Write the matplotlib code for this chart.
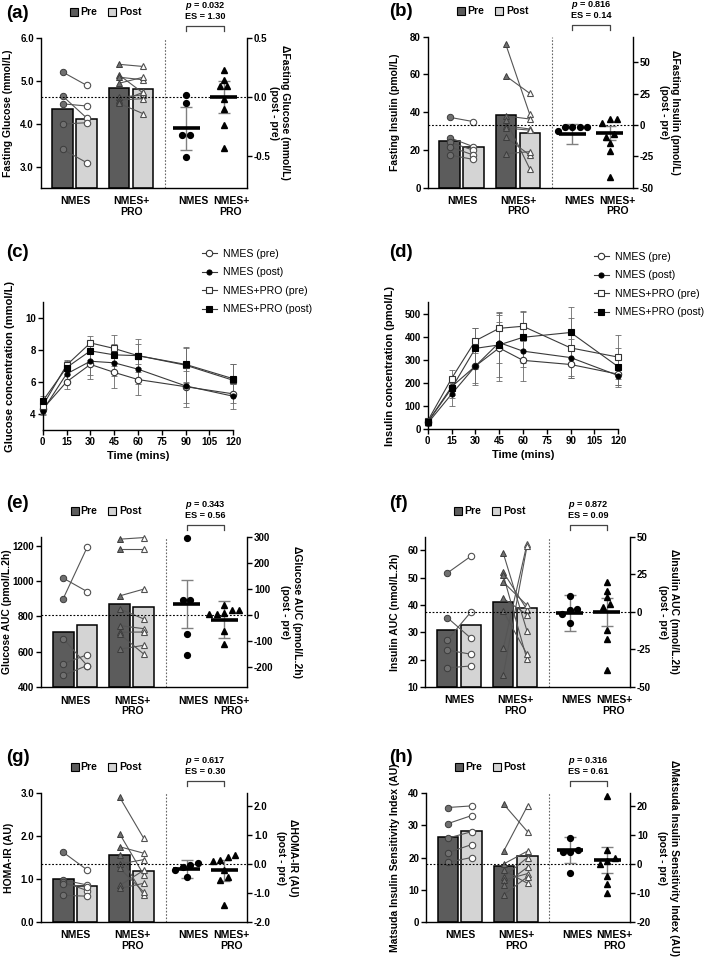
import numpy as np
import matplotlib
matplotlib.use("Agg")
import matplotlib.pyplot as plt
from matplotlib.lines import Line2D
from matplotlib.transforms import blended_transform_factory

plt.rcParams['font.family'] = ['Liberation Sans', 'DejaVu Sans']
plt.rcParams['mathtext.fontset'] = 'custom'
plt.rcParams['mathtext.it'] = 'Liberation Sans:italic:bold'
plt.rcParams['mathtext.rm'] = 'Liberation Sans:bold'

# ---------------- data ----------------
groups = ["NMES", "NMES+\nPRO", "NMES", "NMES+\nPRO"]

a_bars = [4.33, 4.10, 4.82, 4.80]
a_nmes_pre = [5.20, 4.64, 4.46, 3.99, 3.40]
a_nmes_post = [4.89, 4.13, 4.41, 4.02, 3.09]
a_pro_pre = [5.38, 5.13, 5.08, 4.94, 4.61, 4.55, 4.51, 4.47]
a_pro_post = [5.33, 4.71, 5.02, 5.08, 4.67, 4.58, 4.73, 4.23]
a_d_nmes = [0.02, -0.05, -0.32, -0.32, -0.51]
a_d_pro = [0.23, 0.14, 0.09, 0.09, -0.02, -0.10, -0.24, -0.43]
a_d_mean = [-0.265, 0.0]
a_d_err = [0.18, 0.137]

b_bars = [24.7, 21.7, 38.5, 29.1]
b_nmes_pre = [37.3, 26.5, 24.2, 21.7, 17.3]
b_nmes_post = [35.0, 21.7, 19.8, 17.3, 15.0]
b_pro_pre = [75.9, 59.2, 38.0, 35.9, 32.8, 31.6, 26.7, 18.0]
b_pro_post = [38.9, 50.0, 36.4, 10.1, 31.1, 30.5, 17.3, 19.1]
b_d_nmes = [-1.6, -1.6, -1.6, -1.6, -4.8]
b_d_pro = [5.1, 5.1, 1.9, -6.9, -9.6, -14.4, -21.0, -41.5]
b_d_mean = [-7.2, -6.4]
b_d_err = [7.7, 5.6]

e_bars = [714, 752, 869, 852]
e_nmes_pre = [1016, 901, 675, 533, 468]
e_nmes_post = [940, 1191, 522, 584, 523]
e_pro_pre = [1236, 1180, 916, 842, 748, 711, 701, 615]
e_pro_post = [1245, 1180, 954, 786, 731, 712, 588, 637]
e_d_nmes = [296, 56, 56, -74, -155]
e_d_pro = [39, 19, 19, 8, 3, 3, -61, -113]
e_d_mean = [40, -19]
e_d_err = [92, 70]

f_bars = [30.8, 32.6, 41.1, 38.9]
f_nmes_pre = [51.7, 35.4, 27.2, 23.5, 17.0]
f_nmes_post = [57.9, 27.8, 37.5, 22.0, 17.7]
f_pro_pre = [59.0, 52.1, 51.0, 48.4, 42.4, 37.8, 24.1, 14.4]
f_pro_post = [30.5, 38.3, 20.1, 39.9, 36.5, 22.0, 62.4, 61.5]
f_d_nmes = [10.7, 1.8, 1.0, -1.5, -7.1]
f_d_pro = [20.1, 14.1, 10.0, 5.2, 2.9, -12.0, -17.8, -38.9]
f_d_mean = [-0.7, 0.0]
f_d_err = [12.0, 9.5]

g_bars = [1.00, 0.84, 1.56, 1.19]
g_nmes_pre = [1.62, 0.98, 0.93, 0.88, 0.62]
g_nmes_post = [1.21, 0.86, 0.73, 0.82, 0.60]
g_pro_pre = [2.90, 2.05, 1.75, 1.55, 1.35, 1.25, 0.85, 0.78]
g_pro_post = [1.95, 1.10, 1.60, 0.62, 1.45, 0.70, 1.20, 0.90]
g_d_nmes = [0.05, -0.05, -0.1, -0.2, -0.45]
g_d_pro = [0.30, 0.25, 0.15, 0.10, -0.20, -0.45, -0.55, -1.40]
g_d_mean = [-0.17, -0.22]
g_d_err = [0.30, 0.35]

h_bars = [26.4, 28.2, 17.4, 20.5]
h_nmes_pre = [35.5, 30.5, 26.0, 21.5, 18.5]
h_nmes_post = [36.0, 33.0, 28.0, 24.0, 20.0]
h_pro_pre = [36.5, 22.0, 18.0, 16.0, 14.0, 13.0, 11.5, 8.5]
h_pro_post = [28.0, 36.0, 22.0, 12.0, 20.0, 15.0, 17.0, 14.0]
h_d_nmes = [9.0, 5.0, 4.0, 4.0, -3.0]
h_d_pro = [23.5, 5.0, 2.0, 1.0, 0.0, -4.0, -7.0, -10.0]
h_d_mean = [4.8, 1.4]
h_d_err = [4.5, 4.5]

times = [0, 15, 30, 45, 60, 90, 120]
time_ticks = [0, 15, 30, 45, 60, 75, 90, 105, 120]
c_nmes_pre = [4.3, 6.0, 7.1, 6.6, 6.15, 5.7, 5.25]
c_nmes_post = [4.2, 6.5, 7.3, 7.2, 6.8, 5.75, 5.1]
c_pro_pre = [4.5, 7.05, 8.45, 8.1, 7.65, 7.05, 6.1]
c_pro_post = [4.8, 6.9, 7.95, 7.7, 7.65, 7.1, 6.2]
c_nmes_pre_err = [0.3, 0.45, 0.9, 1.0, 0.95, 1.0, 0.6]
c_nmes_post_err = [0.3, 0.5, 0.85, 0.8, 0.9, 1.3, 0.8]
c_pro_pre_err = [0.3, 0.3, 0.45, 0.85, 0.75, 1.1, 1.0]
c_pro_post_err = [0.3, 0.4, 0.6, 0.7, 1.05, 1.1, 0.9]

d_nmes_pre = [30, 183, 273, 352, 298, 280, 238]
d_nmes_post = [25, 151, 273, 375, 338, 310, 232]
d_pro_pre = [35, 219, 383, 437, 446, 352, 312]
d_pro_post = [30, 176, 350, 365, 398, 419, 270]
d_nmes_pre_err = [10, 35, 80, 145, 90, 60, 45]
d_nmes_post_err = [10, 50, 75, 90, 70, 80, 50]
d_pro_pre_err = [10, 35, 55, 70, 65, 130, 95]
d_pro_post_err = [10, 40, 90, 140, 110, 110, 80]

# ---------------- layout ----------------
W, H = 709, 972
fig = plt.figure(figsize=(W / 100, H / 100), dpi=100)

PRE_C = '#5c5c5c'
POST_C = '#d4d4d4'
PT_PRE = '#707070'
LN_C = '#555555'

XP = [22, 46, 78.5, 102.5]
XD = [145.5, 183]
XV = 124.5
BW = 20.5
XL = [34.6, 91, 152.6, 190.3]


def rect(x0, y0, x1, y1):
    return [x0 / W, 1 - y1 / H, (x1 - x0) / W, (y1 - y0) / H]


def swarm_x(center, vals, unit_px, spacing=7.5, tol_px=4.5):
    vals = np.asarray(vals, float)
    order = np.argsort(vals)
    xs = np.full(len(vals), float(center))
    grps, cur = [], [order[0]]
    for idx in order[1:]:
        if abs(vals[idx] - vals[cur[-1]]) * unit_px < tol_px:
            cur.append(idx)
        else:
            grps.append(cur)
            cur = [idx]
    grps.append(cur)
    for g in grps:
        k = len(g)
        for j, idx in enumerate(g):
            xs[idx] = center + (j - (k - 1) / 2) * spacing
    return xs


def panel_label(txt, x, y):
    fig.text(x / W, 1 - y / H, txt, fontsize=13.5, fontweight='bold', va='center', ha='left')


def bar_panel(box, llim, lticks, lfmt, rlim, rticks, rfmt, bars, npre, npost, ppre, ppost,
              dn, dp, dmean, derr, ptxt, estxt, ylab, rlab, ylab_x, rlab_off):
    x0, y0, x1, y1 = box
    hpx = y1 - y0
    wpx = x1 - x0
    ax = fig.add_axes(rect(*box))
    ax.set_xlim(0, 206)
    ax.set_ylim(*llim)
    ax2 = ax.twinx()
    ax2.set_ylim(*rlim)
    for s in ['top', 'right']:
        ax.spines[s].set_visible(False)
    for s in ['top', 'left', 'bottom']:
        ax2.spines[s].set_visible(False)
    for sp in [ax.spines['left'], ax.spines['bottom'], ax2.spines['right']]:
        sp.set_linewidth(1.0)

    base = llim[0]
    ax.bar(XP, [v - base for v in bars], bottom=base, width=BW,
           color=[PRE_C, POST_C, PRE_C, POST_C], edgecolor='black', linewidth=1.1, zorder=2)
    for pre, post, xa, xb, mk in [(npre, npost, XP[0], XP[1], 'o'), (ppre, ppost, XP[2], XP[3], '^')]:
        for a, b in zip(pre, post):
            ax.plot([xa, xb], [a, b], color=LN_C, lw=0.8, zorder=3)
        ax.plot([xa] * len(pre), pre, ls='none', marker=mk, ms=4.6, mfc=PT_PRE, mec='#3c3c3c',
                mew=0.7, zorder=4, clip_on=False)
        ax.plot([xb] * len(post), post, ls='none', marker=mk, ms=4.6, mfc='white', mec='#505050',
                mew=0.8, zorder=4, clip_on=False)

    # dotted reference lines
    ax2.axhline(0, color='black', ls=(0, (1.6, 1.6)), lw=0.8, zorder=1)
    ax.axvline(XV, color='#666666', ls=(0, (1.5, 1.5)), lw=0.8, zorder=1)

    unit = hpx / (rlim[1] - rlim[0])
    for xc, vals, mk, m, e in [(XD[0], dn, 'o', dmean[0], derr[0]), (XD[1], dp, '^', dmean[1], derr[1])]:
        ax2.errorbar([xc], [m], yerr=[e], fmt='none', ecolor='#808080', elinewidth=1.0,
                     capsize=4, capthick=1.0, zorder=3)
        ax2.plot([xc - 13.5, xc + 13.5], [m, m], color='black', lw=2.6, solid_capstyle='butt', zorder=5)
        xs = swarm_x(xc, vals, unit)
        ax2.plot(xs, vals, ls='none', marker=mk, ms=4.2, mfc='black', mec='black', zorder=6,
                 clip_on=False)

    # ticks
    ax.set_yticks(lticks)
    ax.set_yticklabels([lfmt.format(v) for v in lticks])
    ax2.set_yticks(rticks)
    ax2.set_yticklabels([rfmt.format(v) for v in rticks])
    for a in (ax, ax2):
        a.tick_params(axis='y', length=3.5, width=1.0, labelsize=7, pad=1.5)
        for t in a.get_yticklabels():
            t.set_fontweight('bold')
    ax.set_xticks(XL)
    ax.set_xticklabels(groups, fontsize=7.5, fontweight='bold', linespacing=1.05)
    ax.tick_params(axis='x', length=0, pad=6)

    ax.set_ylabel(ylab, fontsize=7.5, fontweight='bold')
    ax.yaxis.set_label_coords((ylab_x - x0) / wpx, 0.5)
    ax2.set_ylabel(rlab, fontsize=7.5, fontweight='bold', rotation=270, va='center',
                   linespacing=1.15)
    ax2.yaxis.set_label_coords(1 + rlab_off / wpx, 0.5)

    # bracket + stats text
    tr = blended_transform_factory(ax.transData, ax.transAxes)
    yt = 1 + 12 / hpx
    yb = 1 + 7 / hpx
    ax.plot([XD[0], XD[0], XD[1], XD[1]], [yb, yt, yt, yb], color='#444444', lw=0.9,
            transform=tr, clip_on=False)
    xm = (XD[0] + XD[1]) / 2
    ax.text(xm, 1 + 32 / hpx, r'$p$ = ' + ptxt, transform=tr, ha='center', va='center',
            fontsize=6.6, fontweight='bold')
    ax.text(xm, 1 + 21 / hpx, 'ES = ' + estxt, transform=tr, ha='center', va='center',
            fontsize=6.6, fontweight='bold')

    # Pre / Post legend
    yl = 1 + 25.7 / hpx
    ax.plot([33.3], [yl], marker='s', ms=5.5, mfc=PRE_C, mec='black', mew=0.8, transform=tr,
            clip_on=False)
    ax.text(39.5, yl, 'Pre', transform=tr, ha='left', va='center', fontsize=7.5, fontweight='bold')
    ax.plot([71.3], [yl], marker='s', ms=5.5, mfc=POST_C, mec='black', mew=0.8, transform=tr,
            clip_on=False)
    ax.text(78.5, yl, 'Post', transform=tr, ha='left', va='center', fontsize=7.5, fontweight='bold')
    return ax, ax2


def line_panel(box, ylim, yticks, series, errs, ylab, ylab_x, leg_xy):
    x0, y0, x1, y1 = box
    wpx = x1 - x0
    ax = fig.add_axes(rect(*box))
    ax.set_xlim(0, 120)
    ax.set_ylim(*ylim)
    for s in ['top', 'right']:
        ax.spines[s].set_visible(False)
    for s in ['left', 'bottom']:
        ax.spines[s].set_linewidth(1.0)
    styles = [dict(marker='o', mfc='white', mec='#333333', ms=4.6),
              dict(marker='o', mfc='black', mec='black', ms=3.6),
              dict(marker='s', mfc='white', mec='#333333', ms=4.6),
              dict(marker='s', mfc='black', mec='black', ms=4.2)]
    labels = ['NMES (pre)', 'NMES (post)', 'NMES+PRO (pre)', 'NMES+PRO (post)']
    handles = []
    for vals, e, st, lab in zip(series, errs, styles, labels):
        ax.errorbar(times, vals, yerr=e, fmt='none', ecolor='#6a6a6a', elinewidth=0.6,
                    capsize=2.2, capthick=0.6, zorder=2, clip_on=False)
        ax.plot(times, vals, color='#3a3a3a', lw=0.8, mew=0.8, zorder=3, clip_on=False, **st)
        handles.append(Line2D([0], [0], color='#3a3a3a', lw=0.8, mew=0.8, **st))
    ax.set_xticks(time_ticks)
    ax.set_yticks(yticks)
    ax.tick_params(length=3.5, width=1.0, labelsize=7, pad=1.5)
    for t in ax.get_xticklabels() + ax.get_yticklabels():
        t.set_fontweight('bold')
    ax.set_xlabel('Time (mins)', fontsize=8, fontweight='bold', labelpad=3)
    ax.set_ylabel(ylab, fontsize=8, fontweight='bold')
    ax.yaxis.set_label_coords((ylab_x - x0) / wpx, 0.5)
    fig.legend(handles=handles, labels=labels, loc='upper left',
               bbox_to_anchor=(leg_xy[0] / W, 1 - leg_xy[1] / H), frameon=False,
               fontsize=7.6, handlelength=1.4, handletextpad=0.6, labelspacing=0.8,
               borderaxespad=0, borderpad=0)
    return ax


# (a)
bar_panel((40.7, 37.7, 246.7, 188), (2.5, 6.0), [3.0, 4.0, 5.0, 6.0], '{:.1f}',
          (-0.77, 0.5), [-0.5, 0.0, 0.5], '{:.1f}', a_bars, a_nmes_pre, a_nmes_post,
          a_pro_pre, a_pro_post, a_d_nmes, a_d_pro, a_d_mean, a_d_err, '0.032', '1.30',
          'Fasting Glucose (mmol/L)', '\u0394Fasting Glucose (mmol/L)\n(post - pre)', 13.5, 33)
panel_label('(a)', 6, 13)

# (b)
bar_panel((427.7, 36.7, 632.7, 187.7), (0, 80), [0, 20, 40, 60, 80], '{:.0f}',
          (-50, 70.6), [-50, -25, 0, 25, 50], '{:.0f}', b_bars, b_nmes_pre, b_nmes_post,
          b_pro_pre, b_pro_post, b_d_nmes, b_d_pro, b_d_mean, b_d_err, '0.816', '0.14',
          'Fasting Insulin (pmol/L)', '\u0394Fasting Insulin (pmol/L)\n(post - pre)', 400, 37)
panel_label('(b)', 389, 12)

# (c)
line_panel((42.7, 302.3, 233.3, 429.7), (3, 11), [4, 6, 8, 10],
           [c_nmes_pre, c_nmes_post, c_pro_pre, c_pro_post],
           [c_nmes_pre_err, c_nmes_post_err, c_pro_pre_err, c_pro_post_err],
           'Glucose concentration (mmol/L)', 15, (202, 249))
panel_label('(c)', 6, 252)

# (d)
line_panel((427.7, 302.3, 618.3, 429.0), (0, 550), [0, 100, 200, 300, 400, 500],
           [d_nmes_pre, d_nmes_post, d_pro_pre, d_pro_post],
           [d_nmes_pre_err, d_nmes_post_err, d_pro_pre_err, d_pro_post_err],
           'Insulin concentration (pmol/L)', 395, (594, 252))
panel_label('(d)', 389, 252)

# (e)
bar_panel((41.3, 536.7, 247, 687.3), (400, 1250), [400, 600, 800, 1000, 1200], '{:.0f}',
          (-279, 300), [-200, -100, 0, 100, 200, 300], '{:.0f}', e_bars, e_nmes_pre, e_nmes_post,
          e_pro_pre, e_pro_post, e_d_nmes, e_d_pro, e_d_mean, e_d_err, '0.343', '0.56',
          'Glucose AUC (pmol/L.2h)', '\u0394Glucose AUC (pmol/L.2h)\n(post - pre)', 12, 44)
panel_label('(e)', 6, 504)

# (f)
bar_panel((425.5, 536.7, 629.5, 687), (10, 65), [10, 20, 30, 40, 50, 60], '{:.0f}',
          (-50, 50), [-50, -25, 0, 25, 50], '{:.0f}', f_bars, f_nmes_pre, f_nmes_post,
          f_pro_pre, f_pro_post, f_d_nmes, f_d_pro, f_d_mean, f_d_err, '0.872', '0.09',
          'Insulin AUC (nmol/L.2h)', '\u0394Insulin AUC (nmol/L.2h)\n(post - pre)', 400, 39)
panel_label('(f)', 389, 504)

# (g)
bar_panel((41.3, 793, 247, 922), (0, 3.0), [0.0, 1.0, 2.0, 3.0], '{:.1f}',
          (-2.0, 2.45), [-2.0, -1.0, 0.0, 1.0, 2.0], '{:.1f}', g_bars, g_nmes_pre, g_nmes_post,
          g_pro_pre, g_pro_post, g_d_nmes, g_d_pro, g_d_mean, g_d_err, '0.617', '0.30',
          'HOMA-IR (AU)', '\u0394HOMA-IR (AU)\n(post - pre)', 13.5, 40)
panel_label('(g)', 6, 757)

# (h)
bar_panel((426, 793, 630, 922), (0, 40), [0, 10, 20, 30, 40], '{:.0f}',
          (-20, 24.5), [-20, -10, 0, 10, 20], '{:.0f}', h_bars, h_nmes_pre, h_nmes_post,
          h_pro_pre, h_pro_post, h_d_nmes, h_d_pro, h_d_mean, h_d_err, '0.316', '0.61',
          'Matsuda Insulin Sensitivity Index (AU)',
          '\u0394Matsuda Insulin Sensitivity Index (AU)\n(post - pre)', 400, 38)
panel_label('(h)', 389, 757)

fig.savefig('out.png', dpi=100)
